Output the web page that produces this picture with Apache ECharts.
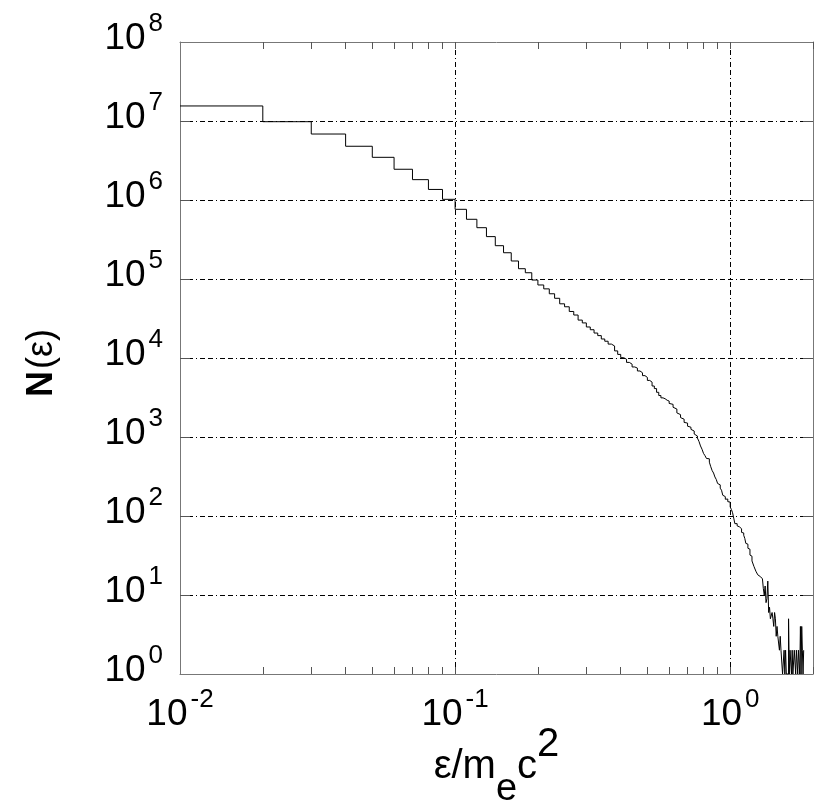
<!DOCTYPE html>
<html>
<head>
<meta charset="utf-8">
<script src="https://cdn.jsdelivr.net/npm/echarts@6/dist/echarts.min.js"></script>
<style>
  html, body { margin: 0; padding: 0; background: #fff; }
  #chart { width: 830px; height: 811px; }
</style>
</head>
<body>
<div id="chart"></div>
<script>
// 直方图: 分箱宽度 0.01, 从 0.01 开始
const binStart = 0.01;
const binWidth = 0.01;

// 每个分箱的计数 N(ε)
const counts = [
  15500000, 9800000, 6840000, 4790000, 3470000, 2450000, 1810000, 1360000, 1020000,
  762000, 570000, 446000, 344000, 264000, 215000, 169000, 135000, 120000, 97000,
  84000, 75000, 65000, 57000, 48500, 44500, 38800, 35000, 30200, 27800,
  24700, 22800, 20700, 19200, 17400, 16300, 15000, 14200, 12300, 11100,
  10100, 9650, 8800, 8350, 7700, 7450, 6850, 6500, 5980, 5680,
  5200, 4950, 4420, 4100, 3680, 3350, 3130, 3050, 2920, 2850,
  2660, 2590, 2380, 2260, 2020, 1920, 1760, 1680, 1530, 1500,
  1370, 1330, 1250, 1190, 1090, 1030, 970, 880, 770, 700,
  620, 580, 535, 530, 480, 420, 375, 350, 312, 290,
  258, 248, 225, 212, 183, 176, 163, 164, 152, 150,
  130, 121, 110, 94, 80, 80, 75, 73, 71, 69,
  62, 61, 57, 52, 45, 44, 39, 38, 32, 31,
  27, 26, 23, 23, 20, 20, 18, 19, 17, 18,
  17, 16, 12, 10, 13, 8, 9, 15, 6, 7,
  5, 5, 6, 5, 4, 6, 5, 3, 4, 3,
  3, 2, 3, 2, 2, 1, 1, 2, 1, 2,
  1, 1, 1, 5, 1, 2, 2, 1, 2, 1,
  1, 2, 2, 1, 2, 2, 1, 2, 2, 1,
  4, 1, 4, 2, 1, 2
];

// 刻度
const xMajor = [0.01, 0.1, 1];
const xGrid = [0.1, 1];
const xTicks = [0.02, 0.03, 0.04, 0.05, 0.06, 0.07, 0.08, 0.09, 0.1,
                0.2, 0.3, 0.4, 0.5, 0.6, 0.7, 0.8, 0.9, 1, 2];
const yMajor = [1, 10, 100, 1e3, 1e4, 1e5, 1e6, 1e7, 1e8];
const yTicks = [10, 100, 1e3, 1e4, 1e5, 1e6, 1e7];

const FONT = "'Liberation Sans Narrow', 'Arial Narrow', 'Liberation Sans', Arial, sans-serif";
const AXIS_COLOR = '#777';
const GRID_DASH = [5, 3, 5, 3, 1, 3];

// 阶梯线的点: 每个分箱左边沿 + 最后一个右边沿
let stepData = counts.map((c, i) => [+(binStart + i * binWidth).toFixed(2), c]);
stepData.push([+(binStart + counts.length * binWidth).toFixed(2), counts[counts.length - 1]]);

// 10^n 形式的标签
const powLabel = v => '{b|10}{e|' + Math.round(Math.log10(v)) + '}';
const powRich = {
  b: { fontFamily: FONT, fontSize: 37, lineHeight: 46, color: '#000', verticalAlign: 'bottom' },
  e: { fontFamily: FONT, fontSize: 26, lineHeight: 18, color: '#000', verticalAlign: 'top', padding: [0, 0, 0, 3] }
};

let myChart = echarts.init(document.getElementById('chart'));

let option = {
  animation: false,
  backgroundColor: '#fff',
  // v6 默认会把标签挤进容器, 这里关掉, 保持绘图区固定
  grid: { left: 180, right: 17, top: 42, bottom: 137, containLabel: false, outerBoundsMode: 'none' },
  xAxis: [
    {
      // 底部主轴: 标签 + 小刻度
      type: 'log', logBase: 10, min: 0.01, max: 2, position: 'bottom',
      axisLine: { show: true, lineStyle: { color: AXIS_COLOR, width: 1 } },
      axisTick: { show: true, inside: true, length: 7, customValues: xTicks, lineStyle: { color: '#555' } },
      axisLabel: { customValues: xMajor, formatter: powLabel, rich: powRich, margin: 13 },
      splitLine: { show: false },
      name: '{a|ε/m}{s|e}{a|c}{p|2}',
      nameLocation: 'middle', nameGap: 51, nameMoveOverlap: false,
      nameTextStyle: {
        rich: {
          a: { fontFamily: FONT, fontSize: 40, lineHeight: 84, color: '#000' },
          s: { fontFamily: FONT, fontSize: 38, lineHeight: 40, color: '#000', verticalAlign: 'bottom' },
          p: { fontFamily: FONT, fontSize: 40, lineHeight: 44, color: '#000', verticalAlign: 'top' }
        }
      }
    },
    {
      // 顶部边框 + 小刻度
      type: 'log', logBase: 10, min: 0.01, max: 2, position: 'top',
      axisLine: { show: true, lineStyle: { color: AXIS_COLOR, width: 1 } },
      axisTick: { show: true, inside: true, length: 7, customValues: xTicks, lineStyle: { color: '#555' } },
      axisLabel: { show: false },
      splitLine: { show: false }
    },
    {
      // 只用来画竖直网格线
      type: 'log', logBase: 10, min: 0.01, max: 2, position: 'bottom',
      axisLine: { show: false },
      axisTick: { show: false, customValues: xGrid },
      axisLabel: { show: false },
      splitLine: { show: true, lineStyle: { color: '#000', width: 1, type: GRID_DASH } }
    }
  ],
  yAxis: [
    {
      type: 'log', logBase: 10, min: 1, max: 1e8, position: 'left',
      axisLine: { show: true, lineStyle: { color: AXIS_COLOR, width: 1 } },
      axisTick: { show: true, inside: true, length: 10, customValues: yTicks, lineStyle: { color: '#555' } },
      axisLabel: { customValues: yMajor, formatter: powLabel, rich: powRich, margin: 17, padding: [0, 0, 16, 0] },
      splitLine: { show: true, lineStyle: { color: '#000', width: 1, type: GRID_DASH } },
      name: '{n|N}{t|(ε)}',
      nameLocation: 'middle', nameGap: 120, nameRotate: 90, nameMoveOverlap: false,
      nameTextStyle: {
        rich: {
          n: { fontFamily: FONT, fontSize: 36, fontWeight: 'bold', color: '#000' },
          t: { fontFamily: FONT, fontSize: 36, color: '#000', padding: [0, 10, 0, 2] }
        }
      }
    },
    {
      type: 'log', logBase: 10, min: 1, max: 1e8, position: 'right',
      axisLine: { show: true, lineStyle: { color: AXIS_COLOR, width: 1 } },
      axisTick: { show: true, inside: true, length: 10, customValues: yTicks, lineStyle: { color: '#555' } },
      axisLabel: { show: false },
      splitLine: { show: false }
    }
  ],
  series: [{
    type: 'line',
    xAxisIndex: 0, yAxisIndex: 0,
    data: stepData,
    step: 'end',
    symbol: 'none',
    sampling: null,
    lineStyle: { color: '#000', width: 1 },
    z: 5
  }]
};
myChart.setOption(option);
</script>
</body>
</html>
